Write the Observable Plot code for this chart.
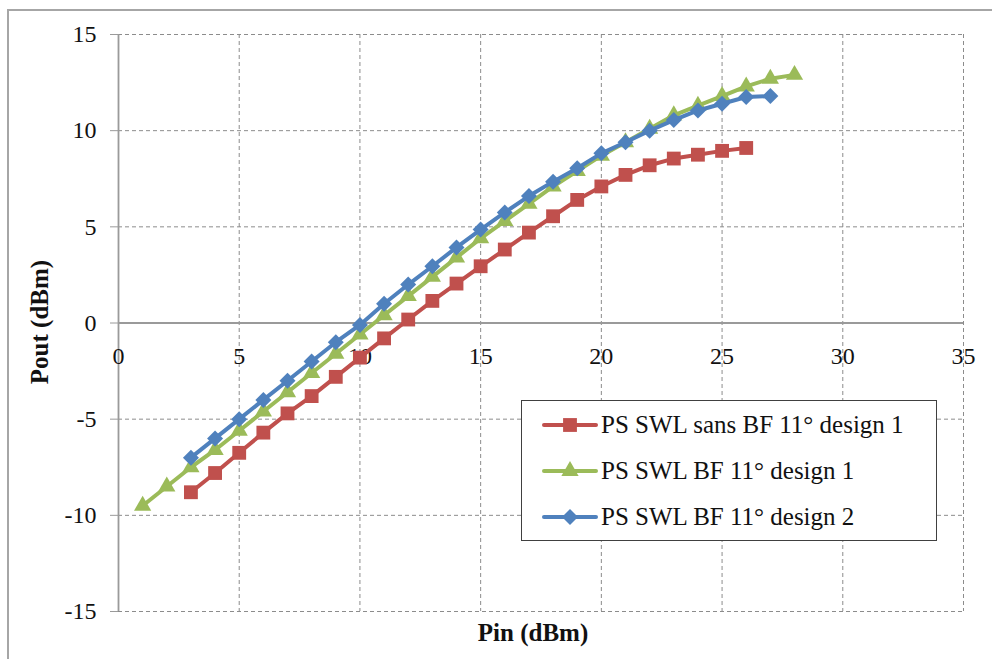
<!DOCTYPE html>
<html>
<head>
<meta charset="utf-8">
<script src="https://cdn.jsdelivr.net/npm/d3@7"></script>
<script src="https://cdn.jsdelivr.net/npm/@observablehq/plot@0.6"></script>
<style>
  body { margin: 0; background: #fff; }
  #wrap { position: relative; width: 992px; height: 659px; overflow: hidden; font-family: "Liberation Serif"; }
  #frame { position: absolute; left: 7px; top: 9px; width: 1200px; height: 1000px; border-left: 2px solid #a6a6a6; border-top: 2px solid #a6a6a6; }
  #legend { position: absolute; left: 521px; top: 400px; width: 416px; height: 141px; border: 1.5px solid #404040; background: #fff; box-sizing: border-box; }
  .row { position: absolute; left: 20px; height: 30px; display: flex; align-items: center; font-size: 25px; color: #111; white-space: nowrap; font-family: "Liberation Serif"; }
  .row svg { margin-right: 3px; }
  .ttl { position: absolute; font-weight: bold; font-size: 25px; color: #111; white-space: nowrap; font-family: "Liberation Serif"; }
</style>
</head>
<body>
<div id="wrap"><div id="frame"></div></div>
<script>
// ---- data ----
const pinRed = [3,4,5,6,7,8,9,10,11,12,13,14,15,16,17,18,19,20,21,22,23,24,25,26];
const poutRed = [-8.8,-7.8,-6.75,-5.7,-4.7,-3.8,-2.8,-1.8,-0.8,0.18,1.15,2.05,2.95,3.82,4.7,5.55,6.4,7.1,7.7,8.2,8.55,8.75,8.95,9.1];
const pinGreen = [1,2,3,4,5,6,7,8,9,10,11,12,13,14,15,16,17,18,19,20,21,22,23,24,25,26,27,28];
const poutGreen = [-9.5,-8.5,-7.5,-6.6,-5.6,-4.6,-3.6,-2.6,-1.6,-0.6,0.4,1.4,2.4,3.4,4.4,5.3,6.2,7.1,7.9,8.7,9.4,10.1,10.8,11.3,11.8,12.3,12.7,12.9];
const pinBlue = [3,4,5,6,7,8,9,10,11,12,13,14,15,16,17,18,19,20,21,22,23,24,25,26,27];
const poutBlue = [-7.0,-6.0,-5.0,-4.0,-3.0,-2.0,-1.0,-0.1,1.0,2.0,2.95,3.93,4.86,5.75,6.6,7.35,8.05,8.82,9.4,10.0,10.55,11.05,11.4,11.75,11.8];
const seriesNames = ["PS SWL sans BF 11° design 1", "PS SWL BF 11° design 1", "PS SWL BF 11° design 2"];
const seriesColors = ["#C0504D", "#9BBB59", "#4F81BD"];
const seriesSymbols = ["square", "triangle", "diamond2"];
const xTicks = [0,5,10,15,20,25,30,35];
const yTicks = [-15,-10,-5,0,5,10,15];
const xTitle = "Pin (dBm)";
const yTitle = "Pout (dBm)";

const FONT = "Liberation Serif";
const toRows = (xs, ys) => xs.map((x, i) => ({x, y: ys[i]}));
const series = [toRows(pinRed, poutRed), toRows(pinGreen, poutGreen), toRows(pinBlue, poutBlue)];
const symR = [7.8, 6.4, 7.2];

const grid = {stroke: "#8c8c8c", strokeOpacity: 1, strokeDasharray: "4,3", strokeWidth: 1};
const marks = [
  Plot.gridX(xTicks.filter(d => d !== 0), grid),
  Plot.gridY(yTicks.filter(d => d !== 0), grid),
  Plot.ruleX([0], {stroke: "#9a9a9a", strokeWidth: 1.8}),
  Plot.ruleY([0], {stroke: "#9a9a9a", strokeWidth: 1.8}),
  Plot.axisY({ticks: yTicks, tickSize: 8, tickPadding: 14, stroke: "#9a9a9a", fill: "#111", fontSize: 24, fontFamily: FONT, label: null, tickFormat: d => String(d)}),
  Plot.text(xTicks, {x: d => d, y: () => 0, dy: 33, text: d => String(d), fontSize: 24, fontFamily: FONT, fill: "#111"})
];
series.forEach((s, i) => {
  marks.push(Plot.line(s, {x: "x", y: "y", stroke: seriesColors[i], strokeWidth: 4}));
  marks.push(Plot.dot(s, {x: "x", y: "y", symbol: () => seriesSymbols[i], fill: seriesColors[i], r: symR[i], stroke: "none"}));
});

const chart = Plot.plot({
  width: 992, height: 659,
  marginLeft: 118, marginRight: 29, marginTop: 34, marginBottom: 48,
  x: {domain: [0, 35], axis: null},
  y: {domain: [-15, 15], axis: null},
  symbol: {type: "identity"},
  style: {fontFamily: FONT, fontSize: "24px"},
  marks
});
chart.style.position = "absolute";
chart.style.left = "0px";
chart.style.top = "0px";
chart.style.background = "transparent";
const wrap = document.getElementById("wrap");
wrap.appendChild(chart);

// axis titles
const xt = document.createElement("div");
xt.className = "ttl"; xt.textContent = xTitle;
xt.style.left = "533px"; xt.style.top = "633px"; xt.style.transform = "translate(-50%,-50%)";
wrap.appendChild(xt);
const yt = document.createElement("div");
yt.className = "ttl"; yt.textContent = yTitle;
yt.style.left = "40px"; yt.style.top = "322px"; yt.style.transform = "translate(-50%,-50%) rotate(-90deg)";
wrap.appendChild(yt);

// legend
const legend = document.createElement("div");
legend.id = "legend";
const rowTops = [9, 55, 101];
const symMap = {square: d3.symbolSquare, triangle: d3.symbolTriangle, diamond2: d3.symbolDiamond2};
seriesNames.forEach((name, i) => {
  const row = document.createElement("div");
  row.className = "row";
  row.style.top = rowTops[i] + "px";
  const sw = d3.create("svg").attr("width", 56).attr("height", 30);
  sw.append("line").attr("x1", 2).attr("x2", 54).attr("y1", 15).attr("y2", 15)
    .attr("stroke", seriesColors[i]).attr("stroke-width", 4).attr("stroke-linecap", "round");
  sw.append("path").attr("transform", "translate(28,15)")
    .attr("d", d3.symbol(symMap[seriesSymbols[i]], Math.PI * symR[i] * symR[i])())
    .attr("fill", seriesColors[i]);
  row.appendChild(sw.node());
  const t = document.createElement("span");
  t.textContent = name;
  t.style.fontFamily = FONT;
  row.appendChild(t);
  legend.appendChild(row);
});
wrap.appendChild(legend);
d3.select(chart).selectAll("text").style("font-family", FONT);
</script>
</body>
</html>
